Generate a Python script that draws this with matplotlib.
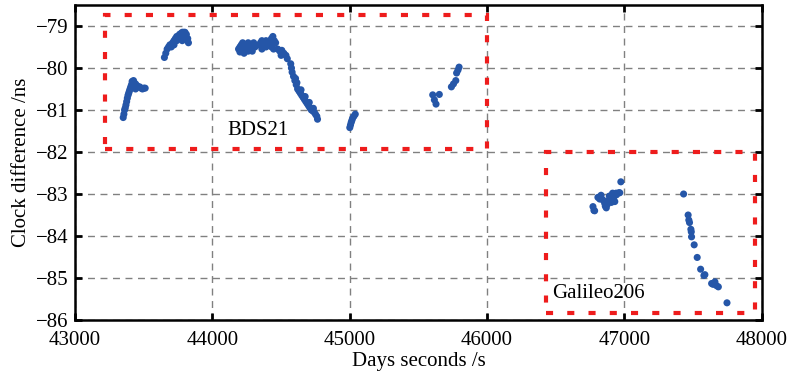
import matplotlib
matplotlib.use("Agg")
import matplotlib.pyplot as plt
from matplotlib.patches import Rectangle

plt.rcParams["font.family"] = ["Liberation Serif", "DejaVu Serif"]
plt.rcParams["axes.unicode_minus"] = True

# BDS21 passes
bds_x = [43350, 43355, 43360, 43365, 43370, 43375, 43380, 43385, 43390, 43395,
         43400, 43405, 43410, 43420, 43430, 43440, 43450, 43460, 43470, 43480,
         43490, 43500, 43510, 43430, 43440, 43415, 43425,
         43650, 43660, 43670, 43680, 43690, 43700, 43710, 43720, 43730, 43740,
         43750, 43760, 43770, 43780, 43790, 43800, 43810, 43820, 43825, 43800,
         43780, 43760, 43700, 43720, 43740, 43790,
         44190, 44200, 44210, 44220, 44230, 44240, 44250, 44260, 44270, 44280,
         44290, 44300, 44310, 44200, 44230, 44260, 44290, 44220, 44250,
         44340, 44350, 44360, 44370, 44380, 44390, 44400, 44410, 44420, 44430,
         44440, 44450, 44460, 44360, 44390, 44420, 44445, 44430, 44405,
         44475, 44490, 44505, 44520, 44535, 44545, 44500,
         44570, 44575, 44580, 44590, 44600, 44605, 44610, 44620, 44630, 44640,
         44650, 44660, 44670, 44680, 44690, 44700, 44710, 44720, 44730, 44740,
         44750, 44760, 44765, 44615, 44645, 44675, 44705, 44735,
         45000, 45005, 45010, 45015, 45020, 45030, 45040,
         45604, 45652, 45616, 45628, 45740, 45755, 45772, 45778, 45788, 45796]
bds_y = [-81.18, -81.10, -81.00, -80.95, -80.88, -80.80, -80.72, -80.65, -80.60, -80.55,
         -80.50, -80.45, -80.40, -80.35, -80.35, -80.38, -80.42, -80.45, -80.45, -80.48,
         -80.50, -80.48, -80.48, -80.45, -80.50, -80.32, -80.30,
         -79.75, -79.65, -79.55, -79.50, -79.45, -79.45, -79.40, -79.35, -79.30, -79.25,
         -79.25, -79.20, -79.18, -79.15, -79.15, -79.15, -79.20, -79.30, -79.40, -79.30,
         -79.35, -79.30, -79.50, -79.45, -79.35, -79.22,
         -79.55, -79.50, -79.45, -79.50, -79.60, -79.55, -79.45, -79.40, -79.50, -79.55,
         -79.45, -79.40, -79.50, -79.62, -79.65, -79.60, -79.60, -79.40, -79.55,
         -79.45, -79.40, -79.35, -79.45, -79.40, -79.35, -79.45, -79.40, -79.35, -79.30,
         -79.25, -79.35, -79.40, -79.55, -79.50, -79.45, -79.55, -79.50, -79.38,
         -79.55, -79.60, -79.58, -79.65, -79.70, -79.78, -79.70,
         -79.90, -80.00, -80.10, -80.20, -80.30, -80.25, -80.40, -80.50, -80.55, -80.60,
         -80.65, -80.70, -80.75, -80.80, -80.85, -80.90, -80.95, -81.00, -81.02, -81.05,
         -81.10, -81.15, -81.22, -80.35, -80.52, -80.68, -80.82, -80.96,
         -81.42, -81.36, -81.30, -81.25, -81.20, -81.15, -81.10,
         -80.64, -80.63, -80.76, -80.86, -80.45, -80.38, -80.30, -80.12, -80.05, -79.98]

# Galileo206 passes
gal_x = [46771, 46778, 46783, 46807, 46830, 46843, 46856, 46861, 46868, 46880,
         46893, 46903, 46905, 46914, 46930, 46939, 46942, 46959, 46966, 46974,
         46820, 46875, 46890, 46920,
         47431, 47464, 47469, 47474, 47484, 47487, 47489, 47508, 47530, 47555,
         47579, 47586, 47635, 47645, 47659, 47670, 47684, 47747]
gal_y = [-83.30, -83.39, -83.40, -83.08, -83.03, -83.14, -83.22, -83.29, -83.33, -83.17,
         -83.14, -83.10, -83.20, -82.98, -83.18, -82.98, -83.02, -82.97, -82.97, -82.71,
         -83.12, -83.25, -83.05, -83.10,
         -83.00, -83.50, -83.62, -83.68, -83.84, -83.90, -84.02, -84.21, -84.51, -84.79,
         -84.94, -84.92, -85.13, -85.15, -85.09, -85.18, -85.21, -85.59]

box_bds = (43220, -81.92, 46000, -78.74)
box_gal = (46430, -85.83, 47950, -82.0)

fig = plt.figure(figsize=(7.91, 3.81), dpi=100)
ax = fig.add_axes([0.095, 0.16, 0.868, 0.827])

ax.grid(True, color="#808080", linestyle=(0, (5, 4)), linewidth=1.0)
ax.set_axisbelow(True)

ax.scatter(bds_x, bds_y, s=26, color="#2556a8", edgecolors="none", zorder=3)
ax.scatter(gal_x, gal_y, s=26, color="#2556a8", edgecolors="none", zorder=3)

for x0, y0, x1, y1 in (box_bds, box_gal):
    ax.add_patch(Rectangle((x0, y0), x1 - x0, y1 - y0, fill=False,
                           edgecolor="#ee1c1c", linewidth=3,
                           linestyle=(0, (1.7, 3.4)), zorder=4, clip_on=False))

ax.text(44110, -81.48, "BDS21", fontsize=15, va="center", ha="left")
ax.text(46470, -85.38, "Galileo206", fontsize=15, va="center", ha="left")

ax.set_xlim(43000, 48000)
ax.set_ylim(-86, -78.5)
ax.set_xticks([43000, 44000, 45000, 46000, 47000, 48000])
ax.set_yticks([-86, -85, -84, -83, -82, -81, -80, -79])
ax.tick_params(direction="in", top=True, right=True, length=5, width=2,
               labelsize=15)
ax.tick_params(axis="x", pad=8)
ax.tick_params(axis="y", pad=5)
for spine in ax.spines.values():
    spine.set_linewidth(1.8)

ax.set_xlabel("Days seconds /s", fontsize=15, labelpad=1)
ax.set_ylabel("Clock difference /ns", fontsize=15, labelpad=3)

fig.savefig("out.png", dpi=100)
